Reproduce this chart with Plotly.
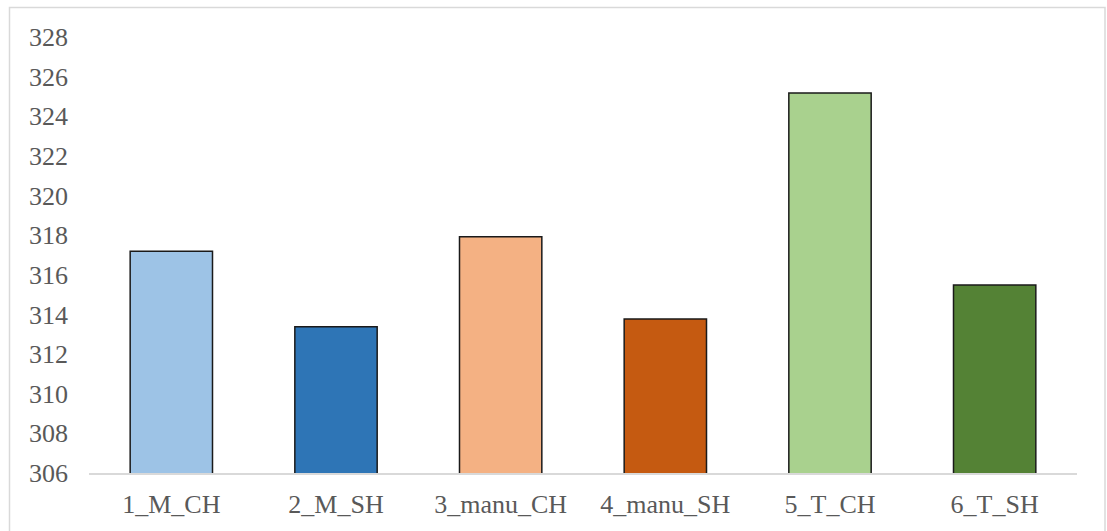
import plotly.graph_objects as go

categories = ["1_M_CH", "2_M_SH", "3_manu_CH", "4_manu_SH", "5_T_CH", "6_T_SH"]
values = [317.19, 313.38, 317.92, 313.77, 325.17, 315.48]
bar_colors = ["#9DC3E6", "#2E75B6", "#F4B183", "#C55A11", "#A9D18E", "#548235"]
y_ticks = list(range(306, 329, 2))

W, H = 1107, 531
ML, MR, MT, MB = 89, 30, 37, 58
pw, ph = W - ML - MR, H - MT - MB

def px_x(p):
    return (p - ML) / pw

def px_y(p):
    return (H - MB - p) / ph

font = dict(family="Liberation Serif, Times New Roman, serif", size=26, color="#595959")

fig = go.Figure(
    go.Bar(
        x=categories,
        y=values,
        width=0.5,
        marker=dict(color=bar_colors, line=dict(color="#1a1a1a", width=1.5)),
    )
)

fig.update_layout(
    width=W,
    height=H,
    margin=dict(l=ML, r=MR, t=MT, b=MB),
    paper_bgcolor="white",
    plot_bgcolor="white",
    font=font,
    showlegend=False,
    bargap=0.5,
    shapes=[
        dict(
            type="rect",
            xref="paper",
            yref="paper",
            x0=px_x(9.5),
            x1=px_x(1105),
            y0=px_y(545),
            y1=px_y(7.5),
            line=dict(color="#D9D9D9", width=1.5),
            fillcolor="rgba(0,0,0,0)",
            layer="below",
        )
    ],
)

fig.update_yaxes(
    range=[306, 328],
    tickvals=y_ticks,
    showgrid=False,
    zeroline=False,
    showline=False,
    ticks="",
    ticklabelstandoff=20,
    tickfont=font,
)
fig.update_xaxes(
    showgrid=False,
    showline=True,
    linecolor="#D9D9D9",
    linewidth=1.5,
    ticks="",
    ticklabelstandoff=7,
    tickfont=font,
)

fig.write_html("out.html")
